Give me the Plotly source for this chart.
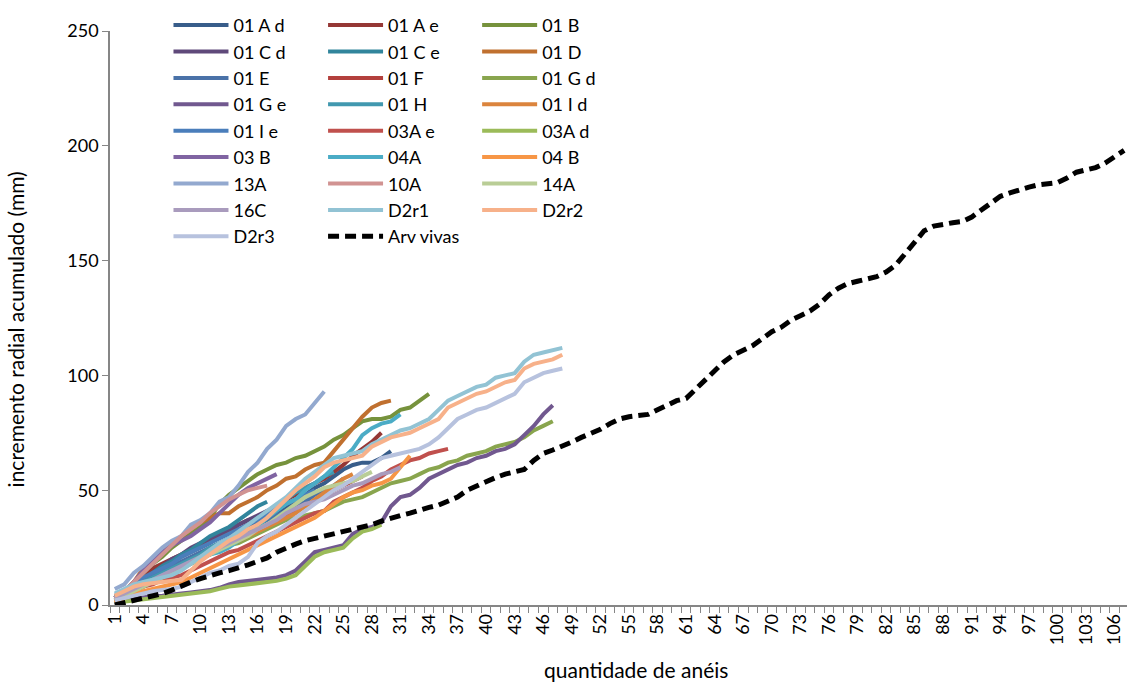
import plotly.graph_objects as go

# ---------------- data ----------------
categories = list(range(1, 108))
tick_labels = [str(c) for c in range(1, 108, 3)]

s01Ad = [4, 6, 9, 12, 14, 17, 19, 21, 23, 25, 27, 30, 32, 33, 34, 36, 38, 40, 42, 45, 48, 51, 53, 56, 59, 61, 62, 62, 64, 67]
s01Ae = [3, 6, 9, 12, 16, 18, 20, 22, 24, 26, 28, 30, 32, 35, 37, 38, 40, 43, 46, 48, 51, 53, 55, 58, 61, 65, 68, 71, 75]
s01B = [3, 6, 10, 14, 18, 21, 25, 28, 31, 34, 38, 44, 48, 51, 54, 57, 59, 61, 62, 64, 65, 67, 69, 72, 74, 77, 80, 81, 81, 82, 85, 86, 89, 92]
s01Cd = [2, 5, 8, 11, 14, 17, 20, 22, 25, 27, 29, 31, 33, 35, 37, 39, 41, 43, 44, 46, 47]
s01Ce = [3, 5, 8, 11, 14, 17, 19, 22, 24, 27, 30, 32, 34, 37, 40, 43, 45]
s01D = [3, 6, 10, 16, 20, 24, 27, 30, 33, 36, 38, 40, 40, 43, 45, 47, 50, 52, 55, 56, 59, 61, 62, 67, 72, 77, 82, 86, 88, 89]
s01E = [2, 4, 7, 10, 12, 15, 17, 19, 21, 23, 25, 27, 29, 31, 33, 35, 37, 39, 41, 43, 45, 48, 50, 52, 55]
s01F = [2, 4, 6, 9, 11, 13, 15, 17, 19, 21, 23, 25, 27, 29, 31, 33, 35, 37, 39, 41, 43, 45, 47, 50, 52, 54, 56]
s01Gd = [2, 4, 6, 8, 10, 12, 14, 16, 18, 20, 22, 24, 26, 27, 29, 31, 33, 35, 37, 38, 39, 40, 41, 43, 45, 46, 47, 49, 51, 53,
         54, 55, 57, 59, 60, 62, 63, 65, 66, 67, 69, 70, 71, 73, 76, 78, 80]
s01Ge = [2, 2.5, 3, 3.5, 3.8, 4, 4.3, 5, 5.5, 6, 6.5, 7.5, 9, 10, 10.5, 11, 11.5, 12, 13, 15, 19, 23, 24, 25, 26, 31, 33, 34, 36, 43,
         47, 48, 51, 55, 57, 59, 61, 62, 64, 65, 67, 68, 70, 74, 78, 83, 87]
s01H = [3, 5, 7, 10, 12, 14, 16, 18, 20, 22, 25, 27, 29, 32, 35, 38, 40, 43, 46, 49, 51, 53, 56, 58]
s01Id = [2, 4, 6, 8, 10, 12, 14, 16, 18, 20, 22, 24, 26, 28, 30, 32, 34, 36, 38, 40, 43, 46, 49, 52, 55, 57]
s01Ie = [3, 6, 9, 12, 14, 16, 18, 21, 23, 25, 27, 29, 31, 33, 35, 37, 40, 42, 44, 46, 48, 50]
s03Ae = [2, 4, 6, 8, 9, 11, 12, 13, 15, 17, 19, 21, 23, 24, 26, 28, 30, 32, 34, 36, 38, 40, 41, 45, 47, 49, 51, 54, 56, 59,
         61, 63, 64, 66, 67, 68]
s03Ad = [1, 1.5, 2, 2.5, 3, 3.5, 4, 4.5, 5, 5.5, 6, 7, 8, 8.5, 9, 9.5, 10, 10.5, 11.5, 13, 17, 21, 23, 24, 25, 29, 32, 33, 35]
s03B = [3, 6, 10, 15, 20, 23, 26, 28, 30, 33, 36, 40, 44, 48, 51, 53, 55, 57]
s04A = [3, 5, 7, 9, 11, 13, 15, 16, 18, 20, 22, 23, 25, 28, 31, 34, 38, 41, 44, 46, 50, 53, 56, 60, 64, 68, 74, 77, 79, 80, 83]
s04B = [1, 3, 5, 6, 7, 8, 9, 10, 12, 14, 16, 18, 20, 22, 24, 26, 28, 30, 32, 34, 36, 38, 41, 44, 47, 49, 50, 52, 53, 55, 60, 65]
s13A = [7, 9, 14, 17, 21, 25, 28, 30, 35, 37, 40, 45, 47, 52, 58, 62, 68, 72, 78, 81, 83, 88, 93]
s10A = [3, 6, 10, 14, 18, 22, 26, 30, 33, 36, 40, 43, 46, 48, 50, 51, 52]
s14A = [2, 4, 6, 8, 10, 12, 14, 16, 18, 20, 22, 24, 26, 28, 30, 33, 35, 38, 41, 44, 47, 49, 51, 52, 53, 54, 56, 58]
s16C = [3, 5, 7, 9, 11, 13, 15, 17, 19, 21, 23, 25, 27, 29, 31, 33, 35, 37, 40, 42, 44, 45, 46, 48, 50, 52, 53, 55, 57, 58, 60]
sD2r1 = [5, 7, 9, 10, 11, 12, 13, 15, 18, 21, 24, 27, 29, 32, 35, 38, 41, 44, 47, 51, 55, 58, 61, 64, 65, 66, 67, 70, 72, 74,
         76, 77, 79, 81, 85, 89, 91, 93, 95, 96, 99, 100, 101, 106, 109, 110, 111, 112]
sD2r2 = [4, 6, 8, 9, 9.5, 10, 10.5, 11, 15, 19, 22, 25, 28, 30, 33, 35, 38, 42, 46, 50, 53, 56, 60, 62, 63, 64, 65, 69, 71, 73,
         74, 75, 77, 79, 81, 86, 88, 90, 92, 93, 95, 97, 98, 103, 105, 106, 107, 109]
sD2r3 = [2, 3, 4, 5, 6, 6.5, 7, 8, 10, 12, 14, 15, 17, 18, 21, 27, 30, 32, 35, 38, 41, 44, 47, 50, 52, 55, 58, 61, 64, 65,
         66, 67, 68, 70, 73, 77, 81, 83, 85, 86, 88, 90, 92, 97, 99, 101, 102, 103]
arv_vivas = [0, 1, 1.5, 3, 4, 5, 6.5, 8.5, 10, 11.5, 13, 14, 15, 16, 17.5, 19, 20.5, 23, 25, 26.5,
             28, 29, 29.5, 30.5, 31.5, 32.5, 34, 35, 36.5, 38, 39, 40, 41.5, 42.5, 43.5, 45, 47, 50, 52, 54,
             55.5, 57, 58, 59, 63, 66, 67.5, 69, 71, 73, 74.5, 76.5, 79, 81, 82, 82.5, 83, 85, 87, 89,
             90, 94, 98, 102, 106, 109, 111, 113, 116, 119, 121, 124, 126, 128, 131, 135, 138, 140, 141, 142,
             143, 145, 148, 153, 158, 163, 165, 166, 166.5, 167, 169, 172, 175, 178, 179.5, 181, 182, 183, 183.5, 184,
             186, 188.5, 189.5, 190.5, 192.5, 195, 198]

series_names = ["01 A d", "01 A e", "01 B", "01 C d", "01 C e", "01 D", "01 E", "01 F", "01 G d",
                "01 G e", "01 H", "01 I d", "01 I e", "03A e", "03A d", "03 B", "04A", "04 B",
                "13A", "10A", "14A", "16C", "D2r1", "D2r2", "D2r3", "Arv vivas"]
series_values = [s01Ad, s01Ae, s01B, s01Cd, s01Ce, s01D, s01E, s01F, s01Gd,
                 s01Ge, s01H, s01Id, s01Ie, s03Ae, s03Ad, s03B, s04A, s04B,
                 s13A, s10A, s14A, s16C, sD2r1, sD2r2, sD2r3, arv_vivas]
series_colors = ["#385D8A", "#953735", "#76923C", "#5F497A", "#31859C", "#C0702F", "#4A72A8", "#B3403D", "#89A54E",
                 "#71588F", "#4198AF", "#DB843D", "#4A7EBB", "#C0504D", "#9BBB59", "#8064A2", "#4BACC6", "#F79646",
                 "#93A9CF", "#D19392", "#B9CD96", "#A99BBD", "#92C3D4", "#F7B18A", "#B7C2DE", "#000000"]

x_title = "quantidade de anéis"
y_title = "incremento radial acumulado (mm)"

# -------------------------------------------------------------------
FONT = "Lato, Calibri, Carlito, sans-serif"
fig = go.Figure()
legend_ids = ["legend", "legend2", "legend3"]
for i, (name, vals, col) in enumerate(zip(series_names, series_values, series_colors)):
    is_arv = name == "Arv vivas"
    fig.add_trace(go.Scatter(
        x=categories[:len(vals)], y=vals, mode="lines", name=name,
        line=dict(color=col, width=5 if is_arv else 4,
                  dash="11px,6px" if is_arv else "solid"),
        legend=legend_ids[i % 3],
    ))

leg_common = dict(font=dict(family=FONT, size=18, color="#000000"), bgcolor="rgba(0,0,0,0)",
                  itemwidth=55, tracegroupgap=0, yanchor="top", xanchor="left", traceorder="normal",
                  itemclick=False)
fig.update_layout(
    width=1127, height=684,
    margin=dict(l=110, r=0, t=31, b=79),
    paper_bgcolor="white", plot_bgcolor="white",
    font=dict(family=FONT, size=18, color="#000000"),
    legend=dict(x=0.0575, y=1.042, **leg_common),
    legend2=dict(x=0.2095, y=1.042, **leg_common),
    legend3=dict(x=0.361, y=1.042, **leg_common),
    xaxis=dict(
        range=[0.5, 107.3], tickmode="array", tickvals=list(range(1, 108, 3)), ticktext=tick_labels,
        ticks="", tickangle=-90, showline=True, linecolor="#868686", linewidth=1.5,
        showgrid=False, zeroline=False, tickfont=dict(family=FONT, size=18),
        minor=dict(tickmode="linear", tick0=0.5, dtick=1, ticks="outside", ticklen=6,
                   tickcolor="#868686", tickwidth=1, showgrid=False),
    ),
    yaxis=dict(
        range=[0, 250], tickmode="array", tickvals=[0, 50, 100, 150, 200, 250],
        ticks="outside", ticklen=6, tickcolor="#868686", showline=True, linecolor="#868686",
        linewidth=1.5, showgrid=False, zeroline=False, tickfont=dict(family=FONT, size=18),
    ),
    annotations=[
        dict(text=x_title, xref="paper", yref="paper", x=0.517, y=-0.113, xanchor="center", yanchor="middle",
             showarrow=False, font=dict(family=FONT, size=21)),
        dict(text=y_title, xref="paper", yref="paper", x=-0.0925, y=0.48, xanchor="center", yanchor="middle",
             textangle=-90, showarrow=False, font=dict(family=FONT, size=21)),
    ],
)
fig.write_html("out.html")
